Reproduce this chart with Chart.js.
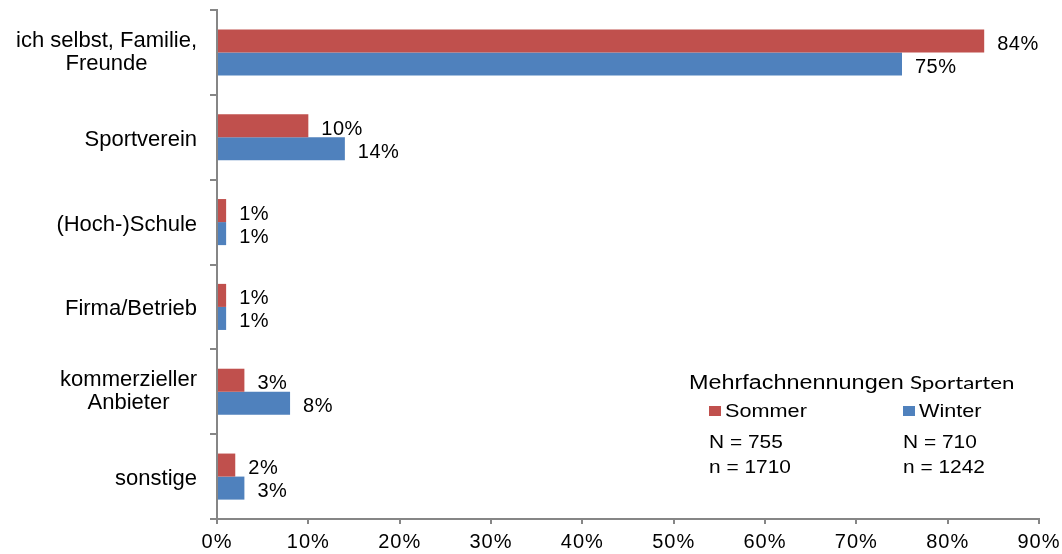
<!DOCTYPE html>
<html>
<head>
<meta charset="utf-8">
<script src="https://cdn.jsdelivr.net/npm/chart.js@4/dist/chart.umd.min.js"></script>
<style>
  html, body { margin: 0; padding: 0; background: #fff; }
  #wrap { position: relative; width: 1062px; height: 554px; }
</style>
</head>
<body>
<div id="wrap"><canvas id="chart"></canvas></div>
<script>
// daten
const categories = [['ich selbst, Familie,', 'Freunde'], 'Sportverein', '(Hoch-)Schule', 'Firma/Betrieb', ['kommerzieller', 'Anbieter'], 'sonstige'];
const sommerValues = [84, 10, 1, 1, 3, 2];
const winterValues = [75, 14, 1, 1, 8, 3];
const xTickValues = [0, 10, 20, 30, 40, 50, 60, 70, 80, 90];
const seriesNames = ['Sommer', 'Winter'];
const seriesColors = ['#C0504D', '#4F81BD'];
const totalN = [755, 710];      // N = Befragte
const totalAnswers = [1710, 1242]; // n = Nennungen

const AXIS = '#868686';
const FONT = "'Liberation Sans', Arial, sans-serif";

// Text im Original ist horizontal etwas gestreckt
function stretchText(ctx, text, x, y, sx) {
  ctx.save();
  ctx.translate(x, y);
  ctx.scale(sx, 1);
  ctx.fillText(text, 0, 0);
  ctx.restore();
}

// letter spacing fuer die x-Achse
const spacingPlugin = {
  id: 'spacing',
  beforeDraw(chart) {
    chart.ctx.letterSpacing = '1px';
  }
};

// y-Beschriftung: Block rechtsbündig, Zeilen zentriert
const catLabels = {
  id: 'catLabels',
  afterDraw(chart) {
    const ctx = chart.ctx;
    const y = chart.scales.y;
    const right = 197;
    ctx.save();
    ctx.font = '22px ' + FONT;
    ctx.letterSpacing = '0px';
    ctx.fillStyle = '#000';
    ctx.textAlign = 'center';
    ctx.textBaseline = 'alphabetic';
    categories.forEach((c, i) => {
      const lines = Array.isArray(c) ? c : [c];
      const w = Math.max(...lines.map(l => ctx.measureText(l).width));
      const cx = right - w / 2;
      const cy = y.getPixelForValue(i);
      const off = lines.length > 1 ? 6 : 8.5;
      lines.forEach((l, j) => {
        ctx.fillText(l, cx, cy + off + (j - (lines.length - 1) / 2) * 23);
      });
    });
    ctx.restore();
  }
};

// prozentwerte hinter den balken
const valueLabels = {
  id: 'valueLabels',
  afterDatasetsDraw(chart) {
    const ctx = chart.ctx;
    ctx.save();
    ctx.font = '20px ' + FONT;
    ctx.letterSpacing = '0.5px';
    ctx.fillStyle = '#000';
    ctx.textAlign = 'left';
    ctx.textBaseline = 'alphabetic';
    chart.data.datasets.forEach((ds, di) => {
      chart.getDatasetMeta(di).data.forEach((bar, i) => {
        ctx.fillText(ds.data[i] + '%', bar.x + 13, bar.y + 9);
      });
    });
    ctx.restore();
  }
};

// Legende / Stichprobe unten rechts
const infoBox = {
  id: 'infoBox',
  afterDraw(chart) {
    const ctx = chart.ctx;
    ctx.save();
    ctx.fillStyle = '#000';
    ctx.textAlign = 'left';
    ctx.textBaseline = 'alphabetic';
    ctx.letterSpacing = '0px';
    ctx.font = '20px ' + FONT;
    stretchText(ctx, 'Mehrfachnennungen', 689, 389, 1.17);
    ctx.font = '18px Lato, sans-serif';
    stretchText(ctx, 'Sportarten', 910, 389, 1.24);

    const cols = [709, 903];
    ctx.font = '19px ' + FONT;
    seriesNames.forEach((name, i) => {
      const x = cols[i];
      ctx.fillStyle = seriesColors[i];
      ctx.fillRect(x, 406, 12, 10);
      ctx.fillStyle = '#000';
      stretchText(ctx, name, x + 16, 417, 1.14);
      stretchText(ctx, 'N = ' + totalN[i], x, 448, 1.1);
      stretchText(ctx, 'n = ' + totalAnswers[i], x, 473, 1.1);
    });
    ctx.restore();
  }
};

new Chart(document.getElementById('chart'), {
  type: 'bar',
  data: {
    labels: categories,
    datasets: [
      { label: seriesNames[0], data: sommerValues, backgroundColor: seriesColors[0] },
      { label: seriesNames[1], data: winterValues, backgroundColor: seriesColors[1] }
    ]
  },
  options: {
    indexAxis: 'y',
    responsive: true,
    maintainAspectRatio: false,
    animation: false,
    categoryPercentage: 0.543,
    barPercentage: 1,
    layout: { padding: { top: 10, right: 23, left: 0, bottom: 0 } },
    plugins: {
      legend: { display: false },
      tooltip: { enabled: false }
    },
    scales: {
      x: {
        min: 0,
        max: 90,
        afterBuildTicks: (s) => { s.ticks = xTickValues.map(v => ({ value: v })); },
        afterFit: (s) => { s.height = 35; s.paddingRight = 0; },
        border: { color: AXIS, width: 2 },
        grid: { drawOnChartArea: false, color: AXIS, lineWidth: 2, tickLength: 5 },
        ticks: {
          color: '#000',
          font: { family: FONT, size: 20 },
          padding: 6,
          maxRotation: 0,
          callback: (v) => v + '%'
        }
      },
      y: {
        afterFit: (s) => { s.width = 217; },
        border: { color: AXIS, width: 2 },
        grid: { drawOnChartArea: false, color: AXIS, lineWidth: 2, tickLength: 7 },
        ticks: { display: false }
      }
    }
  },
  plugins: [spacingPlugin, catLabels, valueLabels, infoBox]
});
</script>
</body>
</html>
